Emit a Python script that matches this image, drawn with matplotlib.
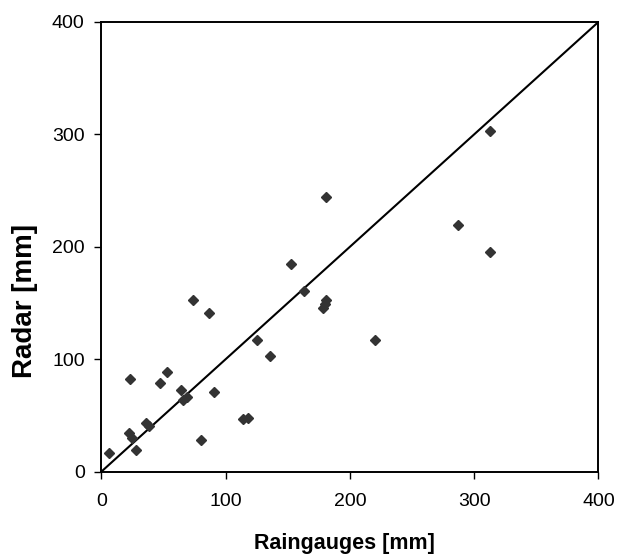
import matplotlib
matplotlib.use("Agg")
import matplotlib.pyplot as plt

plt.rcParams['font.family'] = ['Liberation Sans', 'DejaVu Sans']

raingauges = [313, 287, 313, 220, 181, 153, 163, 181, 180, 178,
              6, 23, 22, 25, 28, 36, 38, 47, 53, 64,
              66, 69, 74, 80, 87, 91, 114, 118, 125, 136]
radar = [303, 219, 195, 117, 244, 185, 161, 153, 149, 146,
         17, 82, 34, 30, 19, 43, 41, 79, 89, 73,
         64, 66, 153, 28, 141, 71, 47, 48, 117, 103]
diag = [0, 400]
ticks = [0, 100, 200, 300, 400]

fig = plt.figure(figsize=(6.19, 5.54), dpi=100)
ax = fig.add_axes([0.1637, 0.1486, 0.8030, 0.8117])

ax.plot(diag, diag, color='black', lw=1.5, zorder=2)
ax.plot(raingauges, radar, linestyle='none', marker='D', markersize=5.4,
        color='#333333', markeredgecolor='#333333', zorder=3)

ax.set_xlim(0, 400)
ax.set_ylim(0, 400)
ax.set_xticks(ticks)
ax.set_yticks(ticks)
ax.tick_params(direction='out', length=5, width=1, labelsize=14, color='black')
ax.tick_params(axis='x', pad=10)
ax.tick_params(axis='y', pad=7)
for s in ax.spines.values():
    s.set_linewidth(1.4)
    s.set_color('black')

ax.set_xlabel('Raingauges [mm]', fontsize=15.5, fontweight='bold')
ax.set_ylabel('Radar [mm]', fontsize=20, fontweight='bold')
ax.xaxis.set_label_coords(0.49, -0.136)
ax.yaxis.set_label_coords(-0.128, 0.38)

fig.savefig('out.png', dpi=100)
